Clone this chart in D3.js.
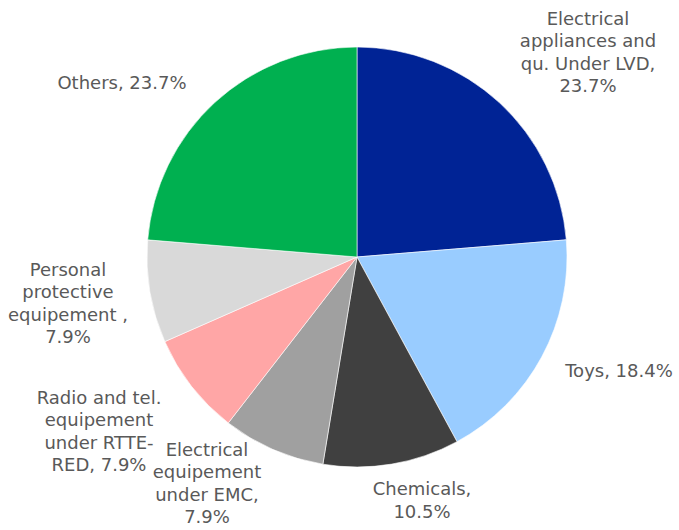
<!DOCTYPE html>
<html>
<head>
<meta charset="utf-8">
<script src="https://cdn.jsdelivr.net/npm/d3@7"></script>
<style>
  html, body { margin: 0; padding: 0; background: #fff; }
  svg { display: block; }
</style>
</head>
<body>
<svg id="chart" width="679" height="530"></svg>
<script>
// ---- Data ----
const categories = [
  "Electrical appliances and qu. Under LVD",
  "Toys",
  "Chemicals",
  "Electrical equipement under EMC",
  "Radio and tel. equipement under RTTE-RED",
  "Personal protective equipement ",
  "Others"
];
const values = [23.7, 18.4, 10.5, 7.9, 7.9, 7.9, 23.7];
const colors = ["#002395", "#99CCFF", "#404040", "#A0A0A0", "#FFA6A6", "#D9D9D9", "#00B050"];

// label line breaks (text wrapping as in the reference); last line gets the value
const labelLines = [
  ["Electrical", "appliances and", "qu. Under LVD,", "{v}"],
  ["Toys, {v}"],
  ["Chemicals,", "{v}"],
  ["Electrical", "equipement", "under EMC,", "{v}"],
  ["Radio and tel.", "equipement", "under RTTE-", "RED, {v}"],
  ["Personal", "protective", "equipement ,", "{v}"],
  ["Others, {v}"]
];

// ---- Layout ----
const cx = 357, cy = 257, radius = 210;
const lineH = 22.5;
// label block centers
const labelCenters = [
  [588, 52], [619, 370], [422, 500], [207, 483], [99, 431], [68, 303], [122, 82]
];

const svg = d3.select("#chart");
const g = svg.append("g").attr("transform", `translate(${cx},${cy})`);

const pie = d3.pie().sort(null).value(d => d);
const arcs = pie(values);
const arc = d3.arc().innerRadius(0).outerRadius(radius);

g.selectAll("path.slice")
  .data(arcs)
  .join("path")
  .attr("class", "slice")
  .attr("d", arc)
  .attr("fill", (d, i) => colors[i])
  .attr("stroke", "#ffffff")
  .attr("stroke-width", 0.6);

const fmt = v => v.toFixed(1) + "%";

const labels = svg.selectAll("text.lbl")
  .data(arcs)
  .join("text")
  .attr("class", "lbl")
  .attr("text-anchor", "middle")
  .attr("font-family", "DejaVu Sans, Verdana, sans-serif")
  .attr("font-size", 18)
  .attr("fill", "#595959");

labels.each(function(d, i) {
  const lines = labelLines[i].map(s => s.replace("{v}", fmt(values[i])));
  const [lx, ly] = labelCenters[i];
  const n = lines.length;
  const firstBaseline = ly - (n - 1) * lineH / 2 + 6.5;
  d3.select(this).selectAll("tspan")
    .data(lines)
    .join("tspan")
    .attr("x", lx)
    .attr("y", (s, k) => firstBaseline + k * lineH)
    .text(s => s);
});
</script>
</body>
</html>
